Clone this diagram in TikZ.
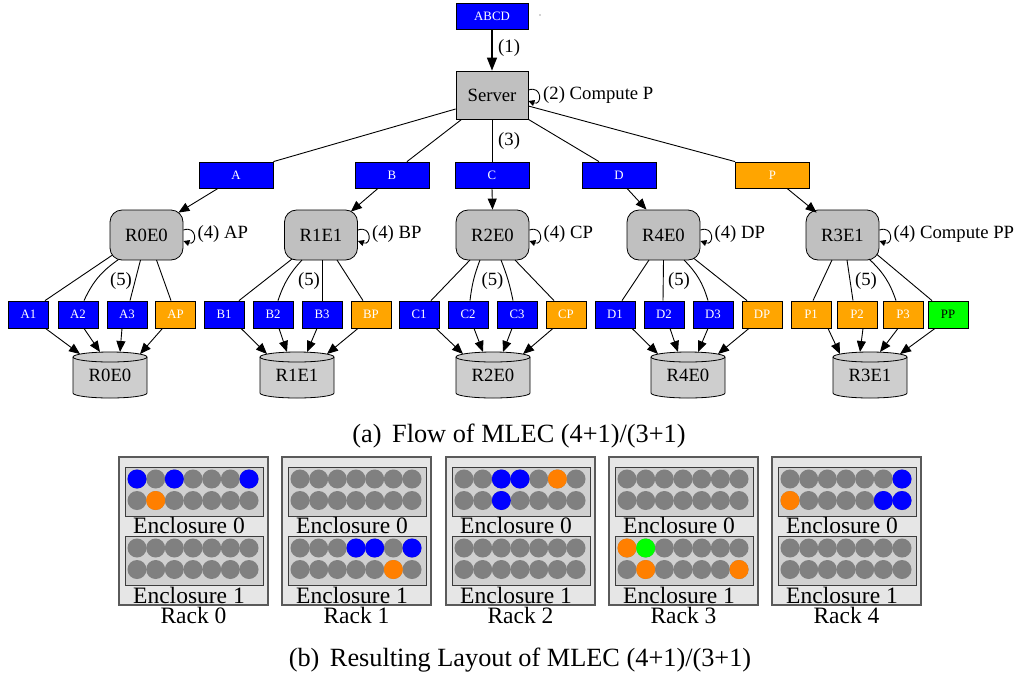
\documentclass[tikz,border=0pt]{standalone}
\usepackage{fontspec}
\setmainfont{Liberation Serif}
\usetikzlibrary{arrows.meta,calc}
\definecolor{gvblue}{RGB}{0,0,255}
\definecolor{gvorange}{RGB}{255,165,0}
\definecolor{gvgreen}{RGB}{0,255,0}
\definecolor{gvgray}{RGB}{192,192,192}
\definecolor{cylgray}{RGB}{206,206,206}
\definecolor{diskgray}{RGB}{128,128,128}
\definecolor{diskorange}{RGB}{255,127,0}
\definecolor{rackfill}{RGB}{230,230,230}
\definecolor{encfill}{RGB}{208,208,208}
\definecolor{rackline}{RGB}{90,90,90}
\definecolor{encline}{RGB}{60,60,60}
\newcommand\mycyl[4]{%
  \filldraw[fill=cylgray, draw=black, line width=0.8pt] (#2-37,#3-18) -- (#2-37,#3+18)
    arc[start angle=180, end angle=360, x radius=37pt, y radius=5pt] -- (#2+37,#3-18)
    arc[start angle=0, end angle=180, x radius=37pt, y radius=5pt] -- cycle;
  \draw[line width=0.8pt] (#2-37,#3-18) arc[start angle=180, end angle=360, x radius=37pt, y radius=5pt];
  \node[cylnode] (#1) at (#2,#3) {#4};
}
\newcommand\mydisk[5]{% x0, enclosure top, row, column, colour
  \fill[#5] ({#1+18+18.67*#4},{#2+12+21.5*#3}) circle[radius=9.5pt];
}
\begin{document}
\begin{tikzpicture}[x=1pt,y=-1pt,
  gfont/.style={font=\fontsize{18.7}{20}\selectfont},
  box/.style={draw=black, line width=0.8pt, inner sep=0pt, font=\fontsize{12.8}{14}\selectfont, text=white},
  topbox/.style={box, minimum width=74pt, minimum height=26pt},
  smallbox/.style={box, minimum width=40pt, minimum height=27pt},
  bluebox/.style={fill=gvblue},
  orangebox/.style={fill=gvorange},
  greenbox/.style={fill=gvgreen, text=black},
  rnode/.style={draw, line width=0.8pt, fill=gvgray, rounded corners=12pt, minimum width=73pt, minimum height=50pt, inner sep=0pt, gfont},
  servernode/.style={draw, line width=0.8pt, fill=gvgray, minimum width=72pt, minimum height=48pt, inner sep=0pt, gfont},
  cylnode/.style={minimum width=74pt, minimum height=46pt, inner sep=0pt, gfont},
  lbl/.style={gfont, inner sep=0pt},
  gedge/.style={line width=0.9pt},
  arr/.style={gedge, -{Triangle[length=11pt,width=9pt]}},
  selfloop/.style={gedge, -{Triangle[length=6pt,width=6pt]}},
  rack/.style={draw=rackline, line width=1.1pt, fill=rackfill},
  enc/.style={draw=encline, line width=0.9pt, fill=encfill},
  encfont/.style={font=\fontsize{23.5}{25}\selectfont, inner sep=0pt},
  capfont/.style={font=\fontsize{26.3}{28}\selectfont, inner sep=0pt}
]
\useasboundingbox (0,0) rectangle (1019,678);

% ---------- top ----------
\node[topbox, bluebox, minimum width=72pt] (abcd) at (492,16) {ABCD};
\node[circle, fill=gray!70, inner sep=0pt, minimum size=1.6pt] (dot) at (540,15) {};
\node[servernode] (server) at (492,95) {Server};
\draw[gedge, line width=1.4pt, -{Triangle[length=13pt,width=10pt]}] (abcd) -- (server);
\node[lbl, anchor=west] (l1) at (498,48) {(1)};
\draw[selfloop] ($(server.east)+(0,-5)$) .. controls +(14,-5) and +(14,5) .. ($(server.east)+(0,6)$);
\node[lbl, anchor=west] (l2) at (543,95) {(2) Compute P};

\node[topbox, bluebox] (A) at (236,175) {A};
\node[topbox, bluebox] (B) at (392,175) {B};
\node[topbox, bluebox] (C) at (492,175) {C};
\node[topbox, bluebox] (D) at (619,175) {D};
\node[topbox, orangebox] (P) at (772.5,175) {P};

\draw[gedge] ($(server.west)+(0,14)$) -- (A.north east);
\draw[gedge] ($(server.south west)+(6,0)$) -- ($(B.north)+(15,0)$);
\draw[gedge] (server.south) -- (C.north);
\draw[gedge] (server.south east) -- ($(D.north)+(-20,0)$);
\draw[gedge] ($(server.east)+(0,11)$) -- (P.north west);
\node[lbl, anchor=west] (l3) at (498,141) {(3)};

% ---------- R nodes ----------
\node[rnode] (R0) at (146.5,235) {R0E0};
\node[rnode] (R1) at (321,235) {R1E1};
\node[rnode] (R2) at (492.5,235) {R2E0};
\node[rnode] (R4) at (663.5,235) {R4E0};
\node[rnode] (R3) at (842.5,235) {R3E1};

\draw[arr] ($(A.south)+(-18,0)$) -- ($(R0.north east)+(-5,3)$);
\draw[arr] ($(B.south)+(-14,0)$) -- ($(R1.north east)+(-7,2)$);
\draw[arr] (C.south) -- (R2.north);
\draw[arr] ($(D.south)+(8,0)$) -- ($(R4.north)+(-17,0)$);
\draw[arr] ($(P.south)+(14.5,0)$) -- ($(R3.north west)+(11,3)$);

\foreach \r/\t in {R0/AP, R1/BP, R2/CP, R4/DP, R3/Compute PP}{
  \draw[selfloop] ($(\r.east)+(0,-5)$) .. controls +(14,-5) and +(14,5) .. ($(\r.east)+(0,6)$);
  \node[lbl, anchor=west] (l4\r) at ($(\r.east)+(14,-1)$) {(4) \t};
}

% ---------- small boxes ----------
\node[smallbox, bluebox] (A1) at (28.5,314.5) {A1};
\node[smallbox, bluebox] (A2) at (78,314.5) {A2};
\node[smallbox, bluebox] (A3) at (127,314.5) {A3};
\node[smallbox, orangebox] (AP) at (175.5,314.5) {AP};
\node[smallbox, bluebox] (B1) at (224,314.5) {B1};
\node[smallbox, bluebox] (B2) at (273,314.5) {B2};
\node[smallbox, bluebox] (B3) at (322,314.5) {B3};
\node[smallbox, orangebox] (BP) at (371,314.5) {BP};
\node[smallbox, bluebox] (C1) at (419,314.5) {C1};
\node[smallbox, bluebox] (C2) at (468,314.5) {C2};
\node[smallbox, bluebox] (C3) at (517,314.5) {C3};
\node[smallbox, orangebox] (CP) at (566,314.5) {CP};
\node[smallbox, bluebox] (D1) at (615,314.5) {D1};
\node[smallbox, bluebox] (D2) at (664,314.5) {D2};
\node[smallbox, bluebox] (D3) at (713,314.5) {D3};
\node[smallbox, orangebox] (DP) at (762,314.5) {DP};
\node[smallbox, orangebox] (P1) at (811,314.5) {P1};
\node[smallbox, orangebox] (P2) at (857,314.5) {P2};
\node[smallbox, orangebox] (P3) at (903,314.5) {P3};
\node[smallbox, greenbox] (PP) at (948,314.5) {PP};

% R -> boxes
\draw[gedge] ($(R0.center)+(-34,20)$) -- ($(A1.north)+(16.5,0)$);
\draw[gedge] ($(R0.center)+(-28,24.5)$) to[bend right=15] ($(A2.north)+(6,0)$);
\draw[gedge] ($(R0.center)+(-6,25)$) -- ($(A3.north)+(3,0)$);
\draw[gedge] ($(R0.center)+(10,25)$) -- ($(AP.north)+(-4.5,0)$);
\node[lbl] (f0) at (121,281) {(5)};

\draw[gedge] ($(R1.center)+(-29,24)$) -- ($(B1.north)+(15,0)$);
\draw[gedge] ($(R1.center)+(-19,25)$) to[bend right=12] ($(B2.north)+(5,0)$);
\draw[gedge] ($(R1.center)+(1,25)$) -- (B3.north);
\draw[gedge] ($(R1.center)+(16,25)$) -- ($(BP.north)+(-8,0)$);
\node[lbl] (f1) at (309,281) {(5)};

\draw[gedge] ($(R2.center)+(-22.5,25)$) -- ($(C1.north)+(12,0)$);
\draw[gedge] ($(R2.center)+(-12.5,25)$) to[bend right=7] ($(C2.north)+(2,0)$);
\draw[gedge] ($(R2.center)+(8.5,25)$) to[bend left=5] ($(C3.north)+(-4,0)$);
\draw[gedge] ($(R2.center)+(22.5,25)$) -- ($(CP.north)+(-12,0)$);
\node[lbl] (f2) at (492.5,281) {(5)};

\draw[gedge] ($(R4.center)+(-14.5,25)$) -- ($(D1.north)+(7,0)$);
\draw[gedge] ($(R4.center)+(0,25)$) -- ($(D2.north)+(-1,0)$);
\draw[gedge] ($(R4.center)+(20.5,25)$) to[bend left=14] ($(D3.north)+(-5,0)$);
\draw[gedge] ($(R4.center)+(30.5,23.5)$) -- ($(DP.north)+(-15,0)$);
\node[lbl] (f4) at (679,281) {(5)};

\draw[gedge] ($(R3.center)+(-10.5,25)$) -- ($(P1.north)+(2,0)$);
\draw[gedge] ($(R3.center)+(4.5,25)$) -- ($(P2.north)+(-4,0)$);
\draw[gedge] ($(R3.center)+(26.5,24)$) to[bend left=14] ($(P3.north)+(-7,0)$);
\draw[gedge] ($(R3.center)+(34.5,19.5)$) -- ($(PP.north)+(-16,0)$);
\node[lbl] (f3) at (866,281) {(5)};

% ---------- cylinders ----------
\mycyl{c0}{110}{375}{R0E0}
\mycyl{c1}{297}{375}{R1E1}
\mycyl{c2}{493}{375}{R2E0}
\mycyl{c4}{688}{375}{R4E0}
\mycyl{c3}{870}{375}{R3E1}

\foreach \a/\b/\c/\d/\cy in {A1/A2/A3/AP/c0, B1/B2/B3/BP/c1, C1/C2/C3/CP/c2, D1/D2/D3/DP/c4, P1/P2/P3/PP/c3}{
  \draw[arr] ($(\a.south)+(17,0)$) -- ($(\cy.center)+(-30,-21)$);
  \draw[arr] ($(\b.south)+(6,0)$) -- ($(\cy.center)+(-10,-23)$);
  \draw[arr] ($(\c.south)+(-5,0)$) -- ($(\cy.center)+(10,-23)$);
  \draw[arr] ($(\d.south)+(-13,0)$) -- ($(\cy.center)+(30,-21)$);
}

\node[capfont, anchor=base] (capa) at (519,442) {(a)\hspace{0.4em}Flow of MLEC (4+1)/(3+1)};

% ---------- racks ----------
\foreach \i/\x in {0/119,1/282,2/446,3/609,4/772}{
  \draw[rack] (\x,457) rectangle (\x+149,605);
  \draw[enc] (\x+6,467) rectangle (\x+144,516);
  \draw[enc] (\x+6,536) rectangle (\x+144,585);
  \foreach \et in {467,536}{
    \foreach \rr in {0,1}{
      \foreach \j in {0,...,6}{
        \mydisk{\x}{\et}{\rr}{\j}{diskgray}
      }
    }
  }
}
% coloured disks
\mydisk{119}{467}{0}{0}{gvblue}
\mydisk{119}{467}{0}{2}{gvblue}
\mydisk{119}{467}{0}{6}{gvblue}
\mydisk{119}{467}{1}{1}{diskorange}
\mydisk{282}{536}{0}{3}{gvblue}
\mydisk{282}{536}{0}{4}{gvblue}
\mydisk{282}{536}{0}{6}{gvblue}
\mydisk{282}{536}{1}{5}{diskorange}
\mydisk{446}{467}{0}{2}{gvblue}
\mydisk{446}{467}{0}{3}{gvblue}
\mydisk{446}{467}{0}{5}{diskorange}
\mydisk{446}{467}{1}{2}{gvblue}
\mydisk{609}{536}{0}{0}{diskorange}
\mydisk{609}{536}{0}{1}{gvgreen}
\mydisk{609}{536}{1}{1}{diskorange}
\mydisk{609}{536}{1}{6}{diskorange}
\mydisk{772}{467}{0}{6}{gvblue}
\mydisk{772}{467}{1}{0}{diskorange}
\mydisk{772}{467}{1}{5}{gvblue}
\mydisk{772}{467}{1}{6}{gvblue}

\foreach \i/\x in {0/119,1/282,2/446,3/609,4/772}{
  \node[encfont, anchor=base] (e0\i) at (\x+70,533) {Enclosure 0};
  \node[encfont, anchor=base] (e1\i) at (\x+70,603) {Enclosure 1};
  \node[encfont, anchor=base] (rk\i) at (\x+74.5,623.5) {Rack \i};
}

\node[capfont, anchor=base] (capb) at (520,666) {(b)\hspace{0.4em}Resulting Layout of MLEC (4+1)/(3+1)};
\end{tikzpicture}
\end{document}
